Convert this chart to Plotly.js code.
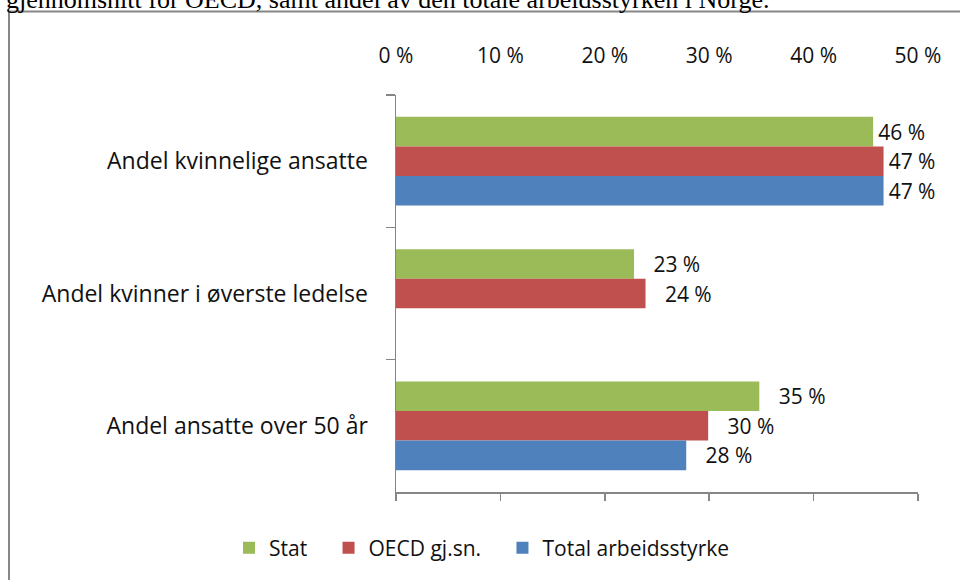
<!DOCTYPE html>
<html>
<head>
<meta charset="utf-8">
<script src="https://cdn.plot.ly/plotly-3.0.1.min.js"></script>
<style>
  html, body { margin: 0; padding: 0; background: #ffffff; }
  #chart { width: 960px; height: 580px; }
</style>
</head>
<body>
<div id="chart"></div>
<script>
// ---- data ----
const categories = ['Andel kvinnelige ansatte', 'Andel kvinner i øverste ledelse', 'Andel ansatte over 50 år'];
const seriesNames = ['Stat', 'OECD gj.sn.', 'Total arbeidsstyrke'];
const statValues = [45.7, 22.8, 34.8];
const oecdValues = [46.7, 23.9, 29.9];
const totalValues = [46.7, null, 27.8];
const xTickValues = [0, 10, 20, 30, 40, 50];
const xTickLabels = ['0\u00a0%', '10\u00a0%', '20\u00a0%', '30\u00a0%', '40\u00a0%', '50\u00a0%'];
const captionText = 'gjennomsnitt for OECD, samt andel av den totale arbeidsstyrken i Norge.';

const colors = ['#9BBB59', '#C0504D', '#4F81BD'];
const FONT = '"Open Sans", "Noto Sans", "Liberation Sans", sans-serif';
const FS = 21;

// Excel-like label placement: labels near the plot edge sit closer to the bar
function labels(vals) {
  return vals.map(v => v == null ? '' : ((v >= 45 ? '\u200a' : '\u00a0\u00a0\u00a0') + Math.round(v) + '\u00a0%'));
}

function barTrace(name, vals, color) {
  return {
    type: 'bar', orientation: 'h', name: name + '\u00a0\u00a0\u00a0',
    y: categories, x: vals,
    marker: { color: color },
    text: labels(vals), textposition: 'outside', cliponaxis: false,
    constraintext: 'none',
    textfont: { family: FONT, size: FS, color: '#111111' },
    hoverinfo: 'x+y'
  };
}

const traces = [
  barTrace(seriesNames[0], statValues, colors[0]),
  barTrace(seriesNames[1], oecdValues, colors[1]),
  barTrace(seriesNames[2], totalValues, colors[2]),
  { type: 'scatter', x: [null], y: [categories[0]], xaxis: 'x2', showlegend: false, hoverinfo: 'skip', mode: 'markers' }
];

// plot area: x 396..918, y 95..492
const L = 396, R = 918, T = 95, B = 492, W = 960, H = 580;
const px = v => (v - L) / (R - L);
const py = v => (B - v) / (B - T);

const layout = {
  width: W, height: H,
  margin: { l: L, r: W - R, t: T, b: H - B },
  paper_bgcolor: '#ffffff', plot_bgcolor: '#ffffff',
  font: { family: FONT, size: FS, color: '#111111' },
  barmode: 'group', bargap: 0.33, bargroupgap: 0,
  showlegend: true,
  legend: {
    orientation: 'h', x: px(490), xanchor: 'center', y: py(548), yanchor: 'middle',
    font: { family: FONT, size: FS, color: '#111111' }, traceorder: 'normal'
  },
  xaxis: {
    range: [0, 50], tickvals: xTickValues, showticklabels: false,
    showgrid: false, zeroline: false, showline: true, linecolor: '#868686', linewidth: 1.5,
    ticks: 'outside', ticklen: 7, tickcolor: '#868686', tickwidth: 1.5, fixedrange: true
  },
  xaxis2: {
    overlaying: 'x', side: 'top', anchor: 'y', range: [0, 50],
    tickvals: xTickValues, ticktext: xTickLabels,
    showgrid: false, zeroline: false, showline: false, ticks: '',
    ticklabelstandoff: 27,
    tickfont: { family: FONT, size: FS, color: '#111111' }
  },
  yaxis: {
    type: 'category', autorange: 'reversed', tickson: 'boundaries',
    ticks: 'outside', ticklen: 9, tickcolor: '#868686', tickwidth: 1.5,
    showline: true, linecolor: '#868686', linewidth: 1.5, showgrid: false, zeroline: false,
    ticklabelstandoff: 22,
    tickfont: { family: FONT, size: 23, color: '#111111' }
  },
  shapes: [{
    type: 'rect', xref: 'paper', yref: 'paper', layer: 'below',
    x0: px(9), x1: px(1000), y0: py(700), y1: py(11.5),
    line: { color: '#878787', width: 2 }, fillcolor: 'rgba(0,0,0,0)'
  }],
  annotations: [{
    text: captionText, xref: 'paper', yref: 'paper',
    x: px(4), xanchor: 'left', y: py(16), yanchor: 'bottom', showarrow: false,
    font: { family: '"Liberation Serif", "Times New Roman", serif', size: 26, color: '#000000' }
  }]
};

Plotly.newPlot('chart', traces, layout, { displayModeBar: false, staticPlot: true });
</script>
</body>
</html>
